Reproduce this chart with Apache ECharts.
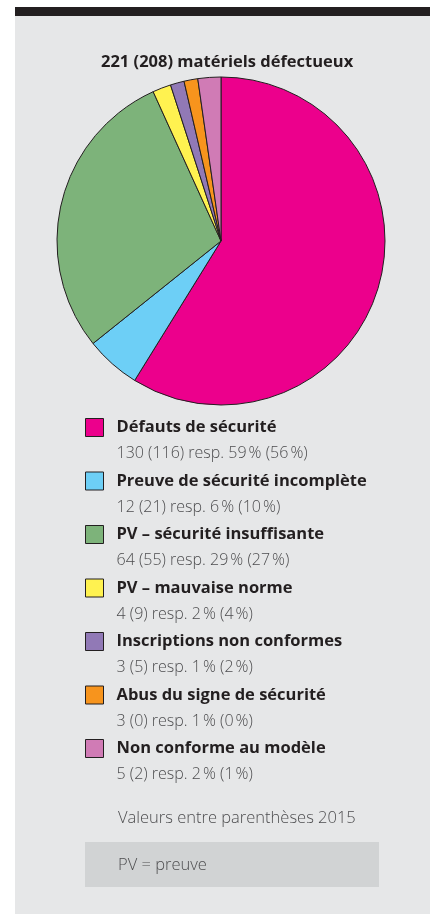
<!DOCTYPE html>
<html>
<head>
<meta charset="utf-8">
<script src="https://cdn.jsdelivr.net/npm/echarts@6/dist/echarts.min.js"></script>
<style>
  html, body { margin: 0; padding: 0; background: #fff; }
  #main { width: 438px; height: 914px; }
</style>
</head>
<body>
<div id="main"></div>
<script>
var categories = [
    'Défauts de sécurité',
    'Preuve de sécurité incomplète',
    'PV – sécurité insuffisante',
    'PV – mauvaise norme',
    'Inscriptions non conformes',
    'Abus du signe de sécurité',
    'Non conforme au modèle'
];
var values2016 = [130, 12, 64, 4, 3, 3, 5];
var values2015 = [116, 21, 55, 9, 5, 0, 2];
var pct2016 = [59, 6, 29, 2, 1, 1, 2];
var pct2015 = [56, 10, 27, 4, 2, 0, 1];
var colors = ['#ec008c', '#6dcff6', '#7db37a', '#fff250', '#9179b6', '#f7941d', '#d07bb5'];

var chartDom = document.getElementById('main');
var myChart = echarts.init(chartDom);
var option;

var pieData = categories.map(function (name, i) {
    return { name: name, value: values2016[i], itemStyle: { color: colors[i] } };
});

function subLine(i) {
    return values2016[i] + ' (' + values2015[i] + ') resp. ' +
        pct2016[i] + '\u202f% (' + pct2015[i] + '\u202f%)';
}

option = {
    backgroundColor: '#fff',
    animation: false,
    title: {
        text: '221 (208) matériels défectueux',
        left: 96,
        top: 49,
        textStyle: {
            fontFamily: 'Open Sans',
            fontWeight: 'bold',
            fontSize: 16.5,
            color: '#231f20'
        }
    },
    legend: {
        orient: 'vertical',
        left: 85,
        top: 418,
        padding: 0,
        itemGap: 10,
        itemWidth: 18,
        itemHeight: 18,
        selectedMode: false,
        icon: 'rect',
        itemStyle: { borderColor: '#231f20', borderWidth: 1 },
        data: categories,
        formatter: function (name) {
            var i = categories.indexOf(name);
            return '{b|' + name + '}\n{s|' + subLine(i) + '}';
        },
        textStyle: {
            padding: [26, 0, 0, 8],
            rich: {
                b: {
                    fontFamily: 'Open Sans',
                    fontWeight: 'bold',
                    fontSize: 16.5,
                    lineHeight: 26,
                    color: '#231f20'
                },
                s: {
                    fontFamily: 'Open Sans',
                    fontWeight: 300,
                    fontSize: 16,
                    lineHeight: 26,
                    color: '#4d4d4f'
                }
            }
        }
    },
    graphic: [
        { type: 'rect', z: -10, shape: { x: 15, y: 7, width: 415, height: 907 }, style: { fill: '#e6e7e8' } },
        { type: 'rect', z: -9, shape: { x: 15, y: 7, width: 415, height: 9 }, style: { fill: '#231f20' } },
        { type: 'rect', z: -9, shape: { x: 85, y: 842, width: 294, height: 45 }, style: { fill: '#d1d3d4' } },
        {
            type: 'text',
            style: { x: 118, y: 818, verticalAlign: 'middle', text: 'Valeurs entre parenthèses 2015', fontFamily: 'Open Sans', fontWeight: 300, fontSize: 16.5, fill: '#4d4d4f' }
        },
        {
            type: 'text',
            style: { x: 118, y: 865, verticalAlign: 'middle', text: 'PV = preuve', fontFamily: 'Open Sans', fontWeight: 300, fontSize: 16.5, fill: '#4d4d4f' }
        }
    ],
    series: [
        {
            type: 'pie',
            center: [221, 241],
            radius: 164,
            startAngle: 90,
            clockwise: true,
            label: { show: false },
            labelLine: { show: false },
            emphasis: { scale: false },
            itemStyle: { borderColor: '#231f20', borderWidth: 1 },
            data: pieData
        }
    ]
};

option && myChart.setOption(option);
</script>
</body>
</html>
